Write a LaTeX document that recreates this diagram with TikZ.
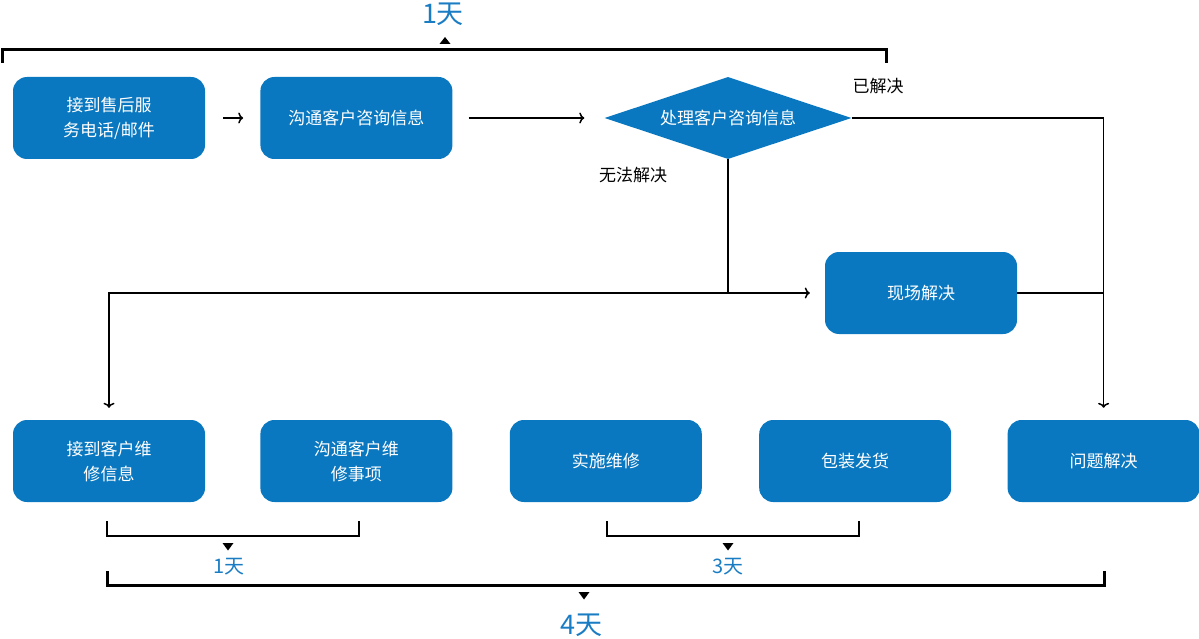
\documentclass[tikz,border=0pt]{standalone}
\usepackage{fontspec}
\setmainfont{Noto Sans CJK SC}
\usepackage{xcolor}
\usetikzlibrary{arrows.meta,positioning,shapes.geometric,calc}
\definecolor{boxblue}{HTML}{0A78C0}
\definecolor{dayblue}{HTML}{1A7DC4}

\begin{document}
\begin{tikzpicture}[x=1pt, y=-1pt, node distance=55pt,
  block/.style={rectangle, fill=boxblue, text=white, minimum width=192pt, minimum height=82pt, rounded corners=14pt, align=center, font=\fontsize{17}{25}\selectfont},
  decision/.style={diamond, fill=boxblue, text=white, aspect=3, inner sep=0pt, minimum width=247pt, minimum height=82pt, font=\fontsize{17}{25}\selectfont},
  note/.style={font=\fontsize{17}{20}\selectfont},
  days/.style={text=dayblue, font=\fontsize{20}{24}\selectfont},
  bigdays/.style={text=dayblue, font=\fontsize{27}{30}\selectfont},
  link/.style={draw, line width=1.5pt},
  line/.style={link, -{To[length=5pt,width=11pt]}},
  brace/.style={draw, line width=2pt},
  bigbrace/.style={draw, line width=3pt}]
  \useasboundingbox (0,0) rectangle (1199,639);

  \node [block] (phone) at (109,118) {接到售后服\\务电话/邮件};
  \node [block, right=of phone] (consult) {沟通客户咨询信息};
  \node [decision] (handle) at (728,118) {处理客户咨询信息};
  \node [block] (onsite) at (921,293) {现场解决};
  \node [block] (repinfo) at (109,461) {接到客户维\\修信息};
  \node [block, right=of repinfo] (repitem) {沟通客户维\\修事项};
  \node [block, right=57pt of repitem] (repair) {实施维修};
  \node [block, right=57pt of repair] (ship) {包装发货};
  \node [block, right=56pt of ship] (solved) {问题解决};

  \node [note] (okay) at (878,86) {已解决};
  \node [note] (fail) at (633,175) {无法解决};
  \coordinate (split) at (handle.south |- onsite.west);

  \path [line, shorten <=18pt, shorten >=17pt] (phone) -- (consult);
  \path [line, shorten <=16pt, shorten >=20pt] (consult) -- (handle);
  \path [line, shorten >=12pt] (handle.east) -| (solved);
  \path [link] (handle.south) -- (split);
  \path [line, shorten >=15pt] (split) -- (onsite);
  \path [line, shorten >=12pt] (split) -| (repinfo);
  \path [link] (onsite.east) -- (onsite.east -| solved);

  % time spans
  \draw [bigbrace] (2,63) -- (2,50) -- (886,50) -- (886,63);
  \fill (445,37) -- (450.5,44) -- (439.5,44) -- cycle;
  \node [bigdays] (day1) at (443,14) {1天};

  \draw [brace] (107,521) -- (107,536) -- (359,536) -- (359,521);
  \draw [brace] (607,521) -- (607,536) -- (859,536) -- (859,521);
  \draw [bigbrace] (107,571) -- (107,585) -- (1104,585) -- (1104,571);
  \foreach \x/\y in {228/543, 728/543, 584/592}
    \fill (\x-5.5,\y) -- (\x+5.5,\y) -- (\x,\y+7.5) -- cycle;
  \node [days] (day2) at (229,567) {1天};
  \node [days] (day3) at (728,567) {3天};
  \node [bigdays] (day4) at (581,625) {4天};
\end{tikzpicture}
\end{document}
